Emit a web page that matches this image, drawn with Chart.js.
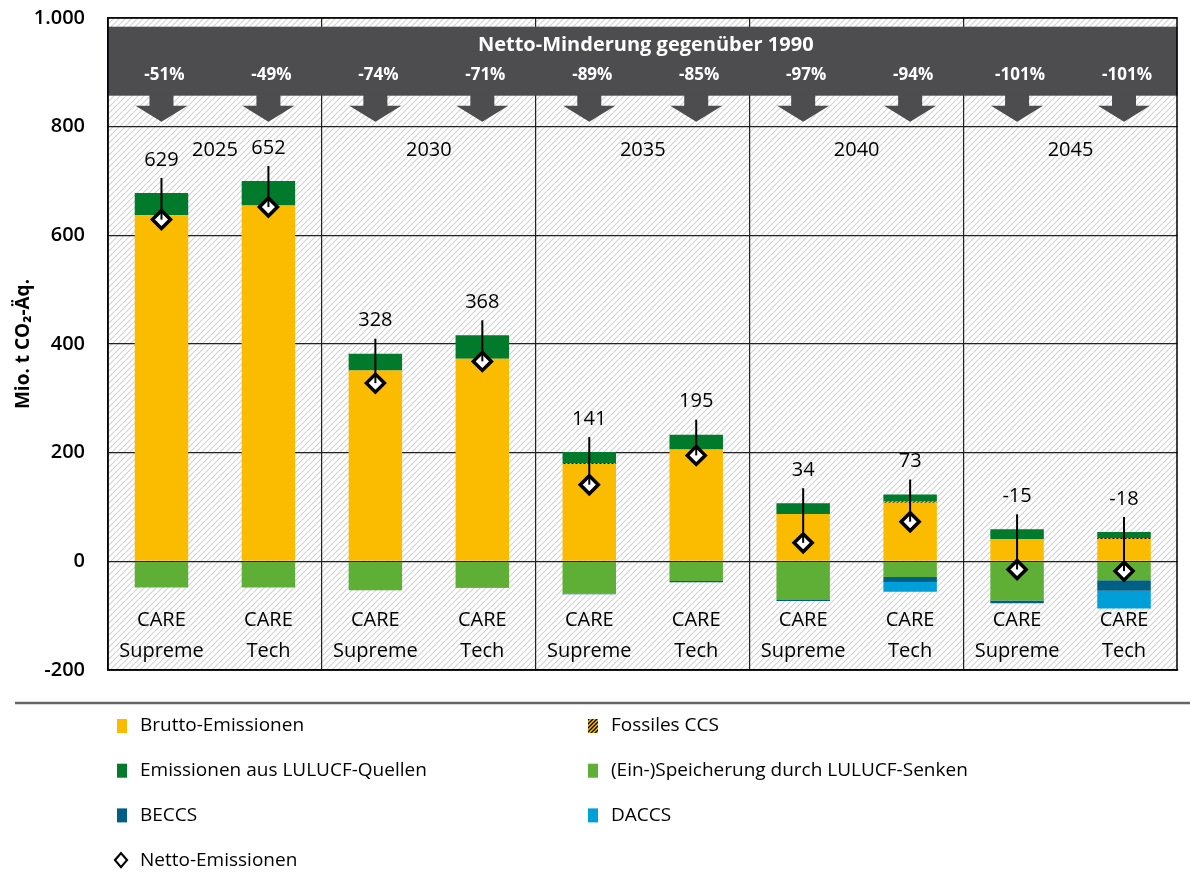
<!DOCTYPE html>
<html>
<head>
<meta charset="utf-8">
<script src="https://cdn.jsdelivr.net/npm/chart.js@4.4.1/dist/chart.umd.min.js"></script>
<style>
  html, body { margin: 0; padding: 0; background: #fff; }
</style>
</head>
<body>
<canvas id="grafico" width="1190" height="874"></canvas>
<script>
// Daten
const szenarien = [["CARE", "Supreme"], ["CARE", "Tech"], ["CARE", "Supreme"], ["CARE", "Tech"], ["CARE", "Supreme"],
                   ["CARE", "Tech"], ["CARE", "Supreme"], ["CARE", "Tech"], ["CARE", "Supreme"], ["CARE", "Tech"]];
const jahre = ["2025", "2030", "2035", "2040", "2045"];
const brutto = [637, 655, 351, 373, 179, 206, 87, 108, 41, 41];
const fossilesCCS = [0, 0, 0, 0, 2, 0, 0, 2, 0, 2];
const lulucfQuellen = [41, 45, 31, 43, 20, 27, 20, 13, 18, 11];
const lulucfSenken = [-48, -48, -53, -48, -59, -36, -71, -29, -72, -35];
const beccs = [0, 0, 0, -1, -1.5, -2.5, -2, -9, -5, -19];
const daccs = [0, 0, 0, 0, 0, 0, 0, -18, 0, -33];
const netto = [629, 652, 328, 368, 141, 195, 34, 73, -15, -18];
const minderung = ["-51%", "-49%", "-74%", "-71%", "-89%", "-85%", "-97%", "-94%", "-101%", "-101%"];

const schrift = "'Open Sans', 'Noto Sans', sans-serif";

function schraffur(grund, linie, schritt, breite) {
  const c = document.createElement("canvas");
  c.width = schritt; c.height = schritt;
  const g = c.getContext("2d");
  g.fillStyle = grund;
  g.fillRect(0, 0, schritt, schritt);
  g.strokeStyle = linie;
  g.lineWidth = breite;
  g.beginPath();
  g.moveTo(-1, schritt + 1); g.lineTo(schritt + 1, -1);
  g.moveTo(-schritt / 2, schritt / 2); g.lineTo(schritt / 2, -schritt / 2);
  g.moveTo(schritt / 2, schritt * 1.5); g.lineTo(schritt * 1.5, schritt / 2);
  g.stroke();
  return g.createPattern(c, "repeat");
}

const hintergrund = schraffur("#ffffff", "#d2d2d2", 6, 1.1);
const ccsMuster = schraffur("#FBBC00", "#000000", 4, 1.3);

const balken = (label, data, farbe) => ({
  type: "bar", label: label, data: data, backgroundColor: farbe,
  borderWidth: 0, barPercentage: 0.5, categoryPercentage: 1.0, order: 1
});

const beschriftung = {
  id: "beschriftung",
  beforeDraw(chart) {
    const { ctx, chartArea: a } = chart;
    ctx.save();
    ctx.fillStyle = hintergrund;
    ctx.fillRect(a.left, a.top, a.right - a.left, a.bottom - a.top);
    ctx.restore();
  },
  beforeDatasetsDraw(chart) {
    const { ctx, chartArea: a, scales: { x, y } } = chart;
    ctx.save();
    // dunkles Band oben
    const yo = y.getPixelForValue(984), yu = y.getPixelForValue(857);
    ctx.fillStyle = "#4D4D4F";
    ctx.fillRect(a.left, yo, a.right - a.left, yu - yo);
    ctx.fillStyle = "#fff";
    ctx.textAlign = "center";
    ctx.textBaseline = "middle";
    ctx.font = "bold 20px " + schrift;
    ctx.fillText("Netto-Minderung gegenüber 1990", (a.left + a.right) / 2 + 3, yo + 19);
    ctx.font = "bold 17px " + schrift;
    minderung.forEach((t, i) => {
      const px = x.getPixelForValue(i);
      ctx.fillStyle = "#fff";
      ctx.fillText(t, px + 3, yo + 48);
      // Pfeil
      ctx.fillStyle = "#4D4D4F";
      ctx.beginPath();
      ctx.moveTo(px - 12, yu - 1);
      ctx.lineTo(px + 12, yu - 1);
      ctx.lineTo(px + 12, yu + 10);
      ctx.lineTo(px + 26, yu + 10);
      ctx.lineTo(px, yu + 26);
      ctx.lineTo(px - 26, yu + 10);
      ctx.lineTo(px - 12, yu + 10);
      ctx.closePath();
      ctx.fill();
    });
    // Jahre
    ctx.fillStyle = "#000";
    ctx.font = "20px " + schrift;
    jahre.forEach((j, k) => {
      const px = (x.getPixelForValue(2 * k) + x.getPixelForValue(2 * k + 1)) / 2;
      ctx.fillText(j, px, y.getPixelForValue(757));
    });
    // Szenarien
    szenarien.forEach((s, i) => {
      const px = x.getPixelForValue(i);
      ctx.fillText(s[0], px, y.getPixelForValue(-109));
      ctx.fillText(s[1], px, y.getPixelForValue(-165));
    });
    ctx.restore();
  },
  afterDatasetsDraw(chart) {
    const { ctx, chartArea: a } = chart;
    const netzMeta = chart.getDatasetMeta(6);
    const obenMeta = chart.getDatasetMeta(2);
    ctx.save();
    ctx.strokeStyle = "#000";
    ctx.fillStyle = "#000";
    ctx.lineWidth = 2;
    ctx.textAlign = "center";
    ctx.textBaseline = "middle";
    ctx.font = "20px " + schrift;
    netto.forEach((v, i) => {
      const p = netzMeta.data[i];
      const ty = obenMeta.data[i].y - 33;
      ctx.beginPath();
      ctx.moveTo(p.x, ty + 18);
      ctx.lineTo(p.x, p.y);
      ctx.stroke();
      ctx.fillText(String(v), p.x, ty);
    });
    // Rahmen
    ctx.lineWidth = 1.5;
    ctx.strokeRect(a.left, a.top, a.right - a.left - 0.5, a.bottom - a.top);
    ctx.restore();
  },
  afterDraw(chart) {
    const { ctx } = chart;
    ctx.save();
    ctx.strokeStyle = "#666";
    ctx.lineWidth = 2.5;
    ctx.beginPath();
    ctx.moveTo(15, 703);
    ctx.lineTo(1190, 703);
    ctx.stroke();
    ctx.font = "19px " + schrift;
    ctx.textBaseline = "middle";
    ctx.textAlign = "left";
    chart.data.datasets.forEach((ds, i) => {
      const lx = [117, 588][i % 2];
      const ly = 726 + Math.floor(i / 2) * 44.7;
      if (ds.type === "line") {
        ctx.strokeStyle = "#000";
        ctx.fillStyle = "#fff";
        ctx.lineWidth = 2.2;
        ctx.beginPath();
        ctx.moveTo(lx + 4, ly - 7); ctx.lineTo(lx + 10, ly); ctx.lineTo(lx + 4, ly + 7); ctx.lineTo(lx - 2, ly);
        ctx.closePath();
        ctx.fill(); ctx.stroke();
      } else {
        ctx.fillStyle = ds.backgroundColor;
        ctx.fillRect(lx, ly - 7, 10, 14);
      }
      ctx.fillStyle = "#000";
      ctx.fillText(ds.label, lx + 23, ly);
    });
    ctx.restore();
  }
};

new Chart(document.getElementById("grafico"), {
  data: {
    labels: szenarien,
    datasets: [
      balken("Brutto-Emissionen", brutto, "#FBBC00"),
      balken("Fossiles CCS", fossilesCCS, ccsMuster),
      balken("Emissionen aus LULUCF-Quellen", lulucfQuellen, "#017A2C"),
      balken("(Ein-)Speicherung durch LULUCF-Senken", lulucfSenken, "#5FAF37"),
      balken("BECCS", beccs, "#005F85"),
      balken("DACCS", daccs, "#009FDA"),
      {
        type: "line", label: "Netto-Emissionen", data: netto, stack: "netto",
        showLine: false, pointStyle: "rectRot", pointRadius: 9, pointHoverRadius: 9,
        pointBackgroundColor: "#fff", pointBorderColor: "#000", pointBorderWidth: 3.5,
        order: 0
      }
    ]
  },
  options: {
    responsive: false,
    animation: false,
    layout: { padding: { top: 18, right: 0, bottom: 204, left: 0 } },
    plugins: {
      legend: { display: false },
      tooltip: { enabled: false }
    },
    scales: {
      x: {
        stacked: true,
        ticks: { display: false },
        grid: {
          offset: true,
          drawTicks: false,
          color: c => (c.index % 2 === 0 && c.index > 0 && c.index < 10) ? "#222" : "rgba(0,0,0,0)",
          lineWidth: 1.2
        },
        border: { color: "#000", width: 1.5 },
        afterFit: s => { s.height = 0; s.paddingLeft = 0; s.paddingRight = 0; }
      },
      y: {
        stacked: true,
        min: -200, max: 1000,
        ticks: {
          stepSize: 200,
          padding: 23,
          color: "#000",
          font: { family: schrift, weight: "600", size: 20 },
          callback: v => v.toLocaleString("de-DE")
        },
        grid: { color: "#222", lineWidth: 1.2, drawTicks: false },
        border: { color: "#000", width: 1.5 },
        title: {
          display: true,
          text: "Mio. t CO₂-Äq.",
          color: "#000",
          font: { family: schrift, weight: "bold", size: 19 },
          padding: { top: 12, bottom: 0 }
        },
        afterFit: s => { s.width = 108; s.paddingTop = 0; s.paddingBottom = 0; }
      }
    }
  },
  plugins: [beschriftung]
});
</script>
</body>
</html>
